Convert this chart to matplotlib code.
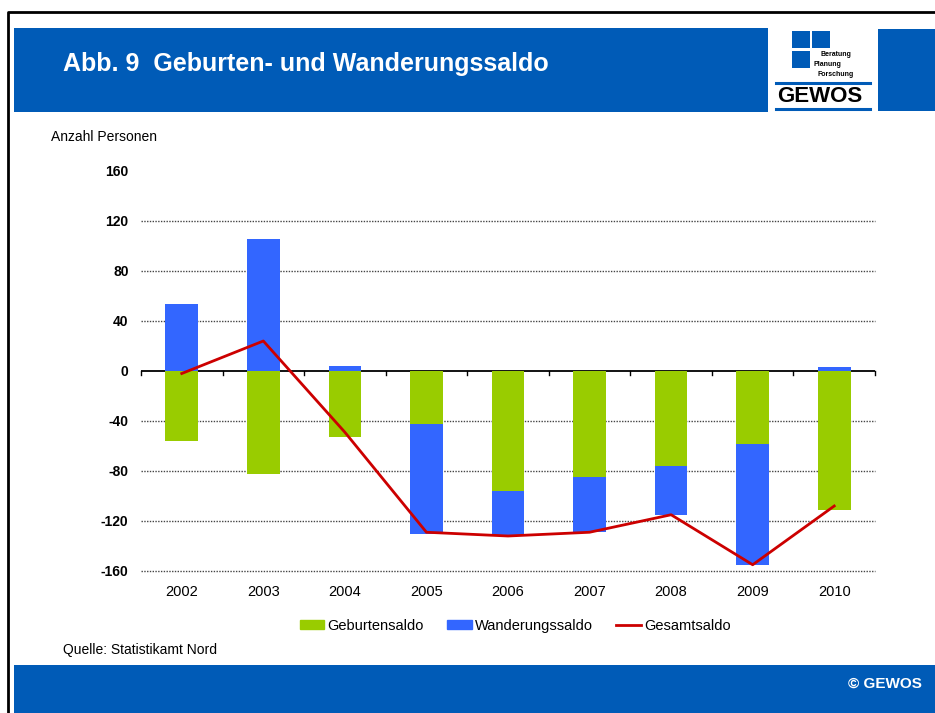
import matplotlib
matplotlib.use('Agg')
import matplotlib.pyplot as plt
from matplotlib.patches import Rectangle, Patch
from matplotlib.lines import Line2D

plt.rcParams['font.family'] = ['Liberation Sans', 'DejaVu Sans']

# Data (Anzahl Personen)
YEARS = ['2002', '2003', '2004', '2005', '2006', '2007', '2008', '2009', '2010']
GEBURTEN = [-56, -82, -53, -42, -96, -85, -76, -58, -111]
WANDERUNG = [54, 106, 4, -88, -36, -44, -39, -97, 3]
GESAMT = [-2, 24, -49, -129, -132, -129, -115, -155, -108]
YTICKS = [-160, -120, -80, -40, 0, 40, 80, 120, 160]

HEADER_BLUE = '#005BB7'
GREEN = '#99CC00'
BLUE = '#3366FF'
RED = '#CC0000'

W, H = 935, 713
fig = plt.figure(figsize=(W / 100, H / 100), dpi=100)

# Background canvas in pixel coordinates
bg = fig.add_axes([0, 0, 1, 1])
bg.set_xlim(0, W)
bg.set_ylim(H, 0)
bg.axis('off')

# outer frame
bg.plot([7.5, 7.5, W], [H, 11.5, 11.5], color='black', lw=2)

# header bands
bg.add_patch(Rectangle((14, 28), 754, 84, color=HEADER_BLUE, lw=0))
bg.add_patch(Rectangle((878, 29), W - 878, 82, color=HEADER_BLUE, lw=0))
bg.text(63, 64, 'Abb. 9  Geburten- und Wanderungssaldo', color='white',
        fontsize=18, fontweight='bold', va='center', ha='left')

# logo
for x, y in [(792, 31), (812, 31), (792, 51)]:
    bg.add_patch(Rectangle((x, y), 18, 17, color=HEADER_BLUE, lw=0))
bg.text(851, 55, 'Beratung', fontsize=5, fontweight='bold', ha='right', va='center')
bg.text(813, 64, 'Planung', fontsize=5, fontweight='bold', ha='left', va='center')
bg.text(817, 75, 'Forschung', fontsize=5, fontweight='bold', ha='left', va='center')
bg.plot([776, 870], [83, 83], color=HEADER_BLUE, lw=2.2)
bg.plot([776, 870], [109, 109], color=HEADER_BLUE, lw=2.2)
bg.text(777, 97, 'GEWOS', fontsize=16, fontweight='bold', ha='left', va='center')

# footer
bg.add_patch(Rectangle((14, 665), W - 14, H - 665, color=HEADER_BLUE, lw=0))
bg.text(922, 684, '© GEWOS', color='white', fontsize=11, fontweight='bold',
        ha='right', va='center')

bg.text(51, 137, 'Anzahl Personen', fontsize=10, ha='left', va='center')
bg.text(63, 650, 'Quelle: Statistikamt Nord', fontsize=10, ha='left', va='center')

# Chart
ax = fig.add_axes([141 / W, 1 - 571 / H, 734 / W, 400 / H])
x = list(range(len(YEARS)))
ax.bar(x, GEBURTEN, width=0.4, color=GREEN, zorder=3)
wbottom = [g if w < 0 else 0 for g, w in zip(GEBURTEN, WANDERUNG)]
ax.bar(x, WANDERUNG, bottom=wbottom, width=0.4, color=BLUE, zorder=3)
ax.plot(x, GESAMT, color=RED, lw=2, zorder=4)

ax.set_xlim(-0.5, len(YEARS) - 0.5)
ax.set_ylim(-160, 160)
ax.set_yticks(YTICKS)
ax.set_yticklabels([str(v) for v in YTICKS], fontweight='bold', fontsize=10)
for v in YTICKS:
    if v == 160:
        continue
    if v == 0:
        ax.axhline(0, color='black', lw=1.3, zorder=2.5)
    else:
        ax.axhline(v, color='#444444', lw=1, ls=(0, (1, 1)), zorder=1,
                   clip_on=False)
for s in ax.spines.values():
    s.set_visible(False)
ax.tick_params(axis='y', length=0, pad=9)
ax.set_xticks(x)
ax.set_xticklabels(YEARS, fontsize=10.5)
ax.tick_params(axis='x', length=0, pad=10)
# small ticks on the zero line between categories
for b in range(len(YEARS) + 1):
    ax.plot([b - 0.5, b - 0.5], [0, -3], color='black', lw=1, zorder=2.5,
            clip_on=False)

handles = [Patch(color=GREEN), Patch(color=BLUE), Line2D([], [], color=RED, lw=2)]
fig.legend(handles, ['Geburtensaldo', 'Wanderungssaldo', 'Gesamtsaldo'],
           loc='center', bbox_to_anchor=(515 / W, 1 - 626 / H), ncol=3,
           frameon=False, fontsize=10.5, handlelength=1.7, handleheight=0.55,
           handletextpad=0.2, columnspacing=1.6)

fig.savefig('out.png', dpi=100)
